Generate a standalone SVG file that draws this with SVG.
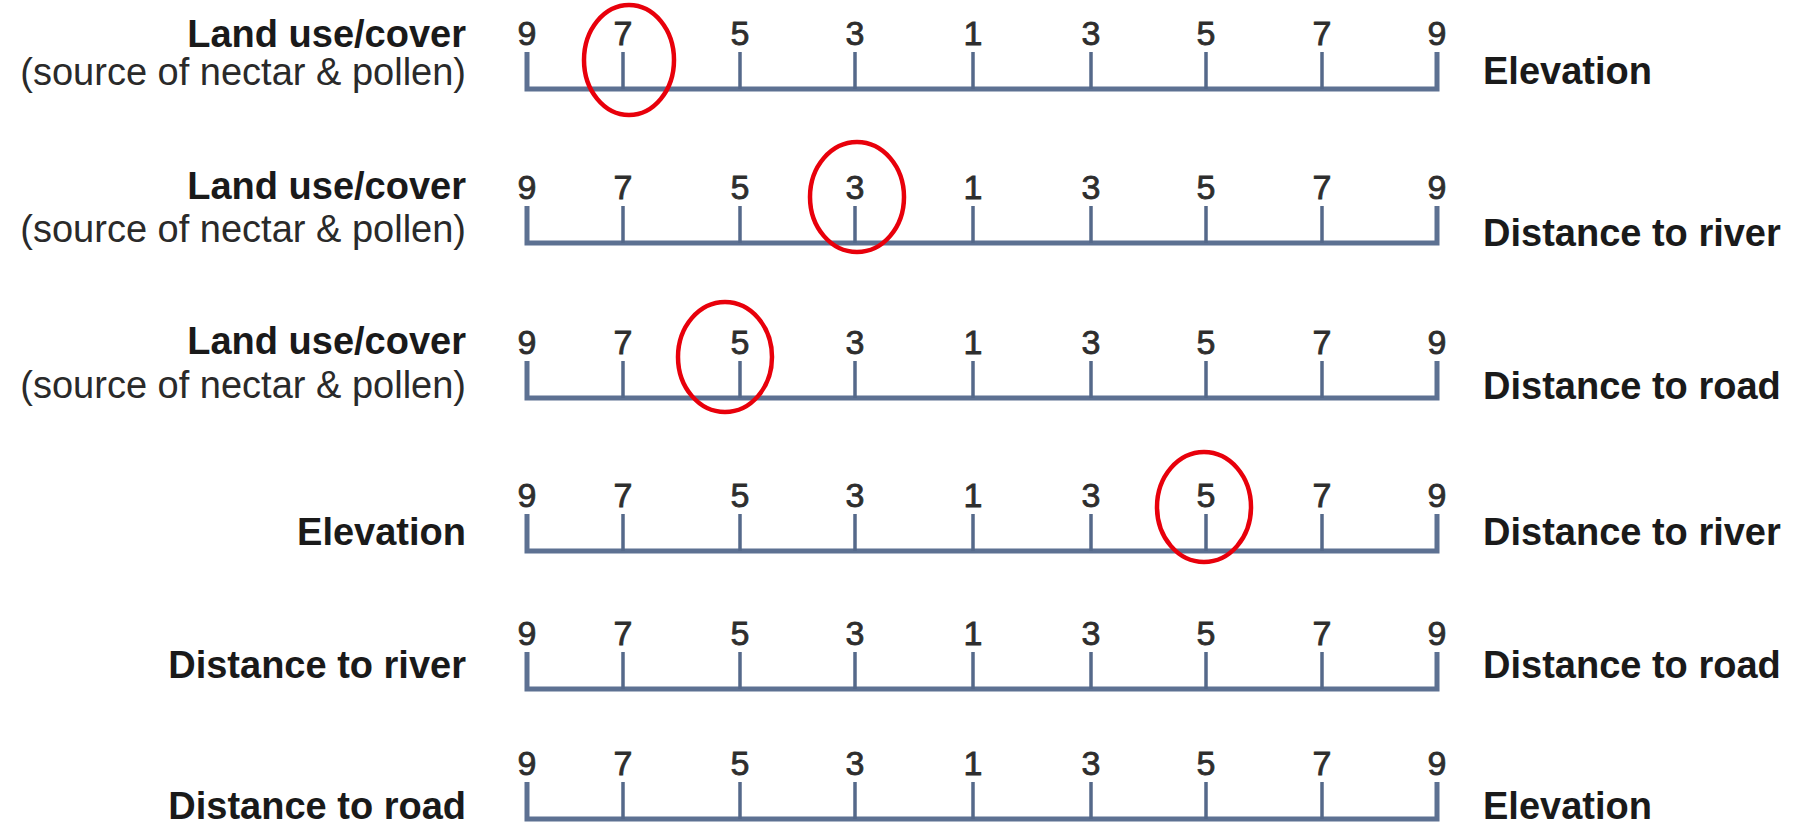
<svg xmlns="http://www.w3.org/2000/svg" width="1805" height="824" viewBox="0 0 1805 824">
<defs>
<style>
.lbl{font-family:"Liberation Sans",Arial,sans-serif;font-size:38px;font-weight:bold;fill:#1a1a1a}
.sub{font-family:"Liberation Sans",Arial,sans-serif;font-size:38px;fill:#2a2a2a}
.num{font-family:"Liberation Sans",Arial,sans-serif;font-size:34px;fill:#2e2e2e;stroke:#2e2e2e;stroke-width:0.8;text-anchor:middle}
.axis{fill:none;stroke:#5d7192;stroke-width:5;stroke-linejoin:miter}
.tick{stroke:#55698a;stroke-width:3.5}
.mark{fill:none;stroke:#e8000b;stroke-width:4.5}
</style>
<g id="scale">
<path class="axis" d="M527,-37 V0 H1437 V-37"/>
<g class="tick">
<line x1="623" y1="-37" x2="623" y2="0"/>
<line x1="740" y1="-37" x2="740" y2="0"/>
<line x1="855" y1="-37" x2="855" y2="0"/>
<line x1="973" y1="-37" x2="973" y2="0"/>
<line x1="1091" y1="-37" x2="1091" y2="0"/>
<line x1="1206" y1="-37" x2="1206" y2="0"/>
<line x1="1322" y1="-37" x2="1322" y2="0"/>
</g>
<g class="num">
<text x="527" y="-44">9</text>
<text x="623" y="-44">7</text>
<text x="740" y="-44">5</text>
<text x="855" y="-44">3</text>
<text x="973" y="-44">1</text>
<text x="1091" y="-44">3</text>
<text x="1206" y="-44">5</text>
<text x="1322" y="-44">7</text>
<text x="1437" y="-44">9</text>
</g>
</g>
</defs>
<rect width="1805" height="824" fill="#ffffff"/>

<g id="row1">
<use href="#scale" transform="translate(0,89)"/>
<text class="lbl" x="466" y="47" text-anchor="end">Land use/cover</text>
<text class="sub" x="466" y="85" text-anchor="end">(source of nectar &amp; pollen)</text>
<text class="lbl" x="1483" y="84">Elevation</text>
</g>

<g id="row2">
<use href="#scale" transform="translate(0,243)"/>
<text class="lbl" x="466" y="199" text-anchor="end">Land use/cover</text>
<text class="sub" x="466" y="242" text-anchor="end">(source of nectar &amp; pollen)</text>
<text class="lbl" x="1483" y="246">Distance to river</text>
</g>

<g id="row3">
<use href="#scale" transform="translate(0,398)"/>
<text class="lbl" x="466" y="354" text-anchor="end">Land use/cover</text>
<text class="sub" x="466" y="398" text-anchor="end">(source of nectar &amp; pollen)</text>
<text class="lbl" x="1483" y="399">Distance to road</text>
</g>

<g id="row4">
<use href="#scale" transform="translate(0,551)"/>
<text class="lbl" x="466" y="545" text-anchor="end">Elevation</text>
<text class="lbl" x="1483" y="545">Distance to river</text>
</g>

<g id="row5">
<use href="#scale" transform="translate(0,689)"/>
<text class="lbl" x="466" y="678" text-anchor="end">Distance to river</text>
<text class="lbl" x="1483" y="678">Distance to road</text>
</g>

<g id="row6">
<use href="#scale" transform="translate(0,819)"/>
<text class="lbl" x="466" y="819" text-anchor="end">Distance to road</text>
<text class="lbl" x="1483" y="819">Elevation</text>
</g>

<g id="marks">
<ellipse class="mark" cx="629" cy="60" rx="45" ry="55"/>
<ellipse class="mark" cx="857" cy="197" rx="47" ry="55"/>
<ellipse class="mark" cx="725" cy="357" rx="47" ry="55"/>
<ellipse class="mark" cx="1204" cy="507" rx="47" ry="55"/>
</g>
</svg>
